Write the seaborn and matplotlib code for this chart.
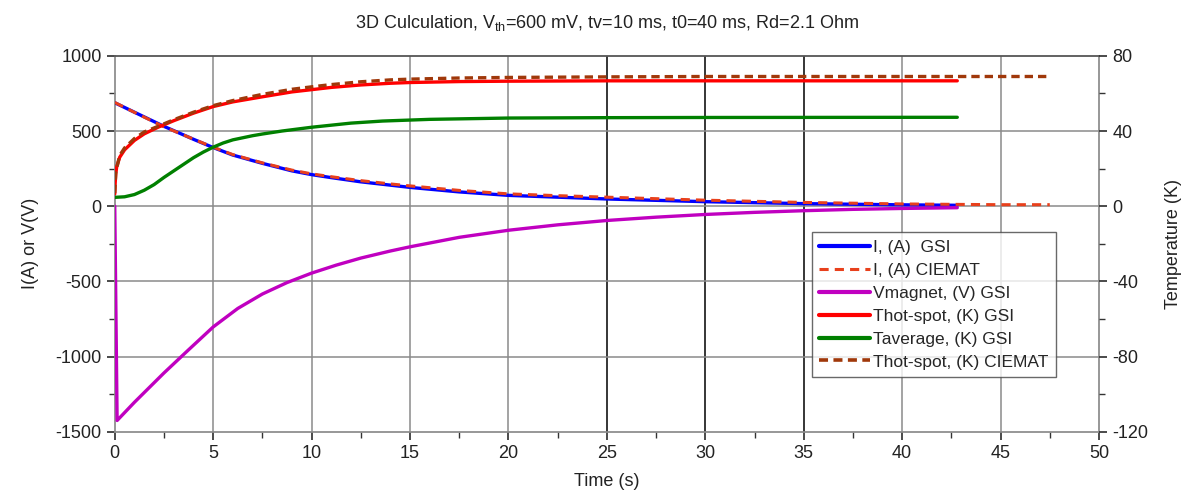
import numpy as np
import pandas as pd
import matplotlib
matplotlib.use("Agg")
import matplotlib.pyplot as plt
import seaborn as sns
from matplotlib.lines import Line2D

# values
# current, GSI and CIEMAT (A)
t_i_gsi = [0, 1, 2.5, 4, 5, 6, 7.5, 9, 10, 11, 12.5, 14, 15, 17.5, 20, 22.5, 25, 30, 35, 40, 42.8]
i_gsi = [688, 625, 531, 445, 390, 340, 285, 235, 210, 190, 162, 140, 125, 95, 72, 60, 48, 30, 17, 9, 6]
t_i_ciemat = [0, 1, 2.5, 4, 5, 6, 7.5, 9, 10, 11, 12.5, 14, 15, 17.5, 20, 22.5, 25, 30, 35, 40, 42.8, 45, 47.5]
i_ciemat = [690, 624, 528, 446, 392, 343, 288, 240, 215, 196, 170, 148, 135, 105, 82, 70, 60, 40, 25, 15, 12, 10, 10]

# magnet voltage (V)
t_vmag = [0, 0.12, 1, 2.5, 3.75, 5, 6.25, 7.5, 8.75, 10, 11.25, 12.5, 14, 15, 17.5, 20, 22.5, 25,
          27.5, 30, 32.5, 35, 37.5, 40, 42.8]
vmag = [0, -1425, -1304, -1109, -955, -803, -680, -584, -508, -445, -392, -345, -298, -270,
        -207, -160, -124, -95, -73, -55, -41, -30, -21, -15, -10]

# temperatures (K)
t_thot_gsi = [0, 0.02, 0.05, 0.1, 0.25, 0.5, 1, 1.5, 2.2, 3, 4, 5, 6, 7.5, 9, 10, 11, 12.5, 14,
              15, 17.5, 20, 25, 42.8]
thot_gsi = [6.5, 12, 17, 21, 26, 30, 35, 38.5, 42, 45.5, 49.5, 53, 55.5, 58.2, 60.8, 62, 63.2,
            64.5, 65.4, 65.8, 66.3, 66.5, 66.7, 66.7]
t_tavg = [0, 0.5, 1, 1.5, 2, 2.5, 3, 3.5, 4, 4.5, 5, 5.5, 6, 7, 7.5, 8.5, 10, 12, 13.6, 16, 20,
          25, 30, 42.8]
tavg = [4.7, 5.0, 6.2, 8.5, 11.5, 15.3, 18.8, 22.3, 25.8, 28.8, 31.4, 33.6, 35.3, 37.5, 38.4, 40,
        42, 44.2, 45.3, 46.2, 46.9, 47.1, 47.2, 47.3]
t_thot_ciemat = [0, 0.05, 0.25, 0.5, 1, 1.5, 2.2, 3, 4, 5, 6, 7.5, 9, 10, 11, 12.5, 14, 15, 17.5,
                 20, 25, 30, 47.5]
thot_ciemat = [7, 18, 27, 31, 36, 39.5, 42.5, 46, 50, 53.5, 56.2, 59.5, 62.2, 63.5, 64.7, 66.2,
               67.2, 67.6, 68.2, 68.5, 68.8, 69, 69]

sns.set_theme(style="white")
plt.rcParams['font.family'] = ['Liberation Sans', 'DejaVu Sans']
plt.rcParams['axes.unicode_minus'] = False

fig, ax = plt.subplots(figsize=(11.83, 4.94), dpi=100)
ax2 = ax.twinx()

lw = 2.4
sns.lineplot(x=t_i_gsi, y=i_gsi, ax=ax, color='#0000FF', lw=lw, zorder=4)
sns.lineplot(x=t_i_ciemat, y=i_ciemat, ax=ax, color='#E8401C', lw=2.2,
             linestyle=(0, (3, 2)), zorder=5)
sns.lineplot(x=t_vmag, y=vmag, ax=ax, color='#C000C0', lw=lw, zorder=4)
sns.lineplot(x=t_thot_gsi, y=thot_gsi, ax=ax2, color='#FF0000', lw=lw, zorder=4)
sns.lineplot(x=t_tavg, y=tavg, ax=ax2, color='#008000', lw=lw, zorder=4)
sns.lineplot(x=t_thot_ciemat, y=thot_ciemat, ax=ax2, color='#A0380A', lw=2.4,
             linestyle=(0, (2.5, 1.5)), zorder=5)

ax.set_xlim(0, 50)
ax.set_ylim(-1500, 1000)
ax2.set_ylim(-120, 80)
ax.set_xticks(np.arange(0, 51, 5))
ax.set_xticks(np.arange(0, 51, 2.5), minor=True)
ax.set_yticks(np.arange(-1500, 1001, 500))
ax.set_yticks(np.arange(-1500, 1001, 250), minor=True)
ax2.set_yticks(np.arange(-120, 81, 40))
ax2.set_yticks(np.arange(-120, 81, 20), minor=True)

# grid (some verticals are drawn darker in the original)
for x in range(5, 50, 5):
    c = 'black' if x in (25, 30, 35) else '#8a8a8a'
    ax.axvline(x, color=c, lw=1.1, zorder=1)
for y in (-1000, -500, 0, 500):
    ax.axhline(y, color='#8a8a8a', lw=1.1, zorder=1)

for a in (ax, ax2):
    for s in a.spines.values():
        s.set_visible(False)
ax.spines['top'].set_visible(True)
ax.spines['top'].set_color('#555555')
ax.spines['top'].set_linewidth(1.3)
for side in ('left', 'right', 'bottom'):
    ax.spines[side].set_visible(True)
    ax.spines[side].set_color('#8a8a8a')

ax.tick_params(axis='both', which='both', direction='out', colors='#333333', labelsize=13)
ax.tick_params(which='major', length=6)
ax.tick_params(which='minor', length=4)
ax.tick_params(axis='x', which='both', bottom=True)
ax.tick_params(axis='y', which='both', left=True)
ax2.tick_params(axis='y', which='both', right=True, direction='out', colors='#333333', labelsize=13)
ax2.tick_params(which='major', length=6)
ax2.tick_params(which='minor', length=4)
for lbl in ax.get_xticklabels() + ax.get_yticklabels() + ax2.get_yticklabels():
    lbl.set_color('#222222')

ax.set_xlabel('Time (s)', fontsize=13, color='#222222', labelpad=8)
ax.set_ylabel('I(A) or V(V)', fontsize=13, color='#222222', labelpad=12)
ax2.set_ylabel('Temperature (K)', fontsize=13, color='#222222', labelpad=12)
ax.set_title('3D Culculation, V$_{\\mathregular{th}}$=600 mV, tv=10 ms, t0=40 ms, Rd=2.1 Ohm',
             fontsize=13, color='#222222', pad=20)

handles = [
    Line2D([], [], color='#0000FF', lw=3),
    Line2D([], [], color='#E8401C', lw=2.2, linestyle=(0, (3, 2))),
    Line2D([], [], color='#C000C0', lw=3),
    Line2D([], [], color='#FF0000', lw=3),
    Line2D([], [], color='#008000', lw=3),
    Line2D([], [], color='#A0380A', lw=2.6, linestyle=(0, (2.5, 1.5))),
]
labels = ['I, (A)  GSI', 'I, (A) CIEMAT', 'Vmagnet, (V) GSI', 'Thot-spot, (K) GSI',
          'Taverage, (K) GSI', 'Thot-spot, (K) CIEMAT']
leg = ax2.legend(handles, labels, loc='upper left', bbox_to_anchor=(0.708, 0.532),
                 fontsize=12.5, frameon=True, fancybox=False, edgecolor='#444444',
                 handlelength=2.9, handletextpad=0.2, labelspacing=0.45,
                 borderpad=0.45, borderaxespad=0)
leg.get_frame().set_linewidth(1.0)
leg.set_zorder(10)

fig.subplots_adjust(left=0.097, right=0.929, top=0.887, bottom=0.126)
fig.savefig('out.png', dpi=100)
